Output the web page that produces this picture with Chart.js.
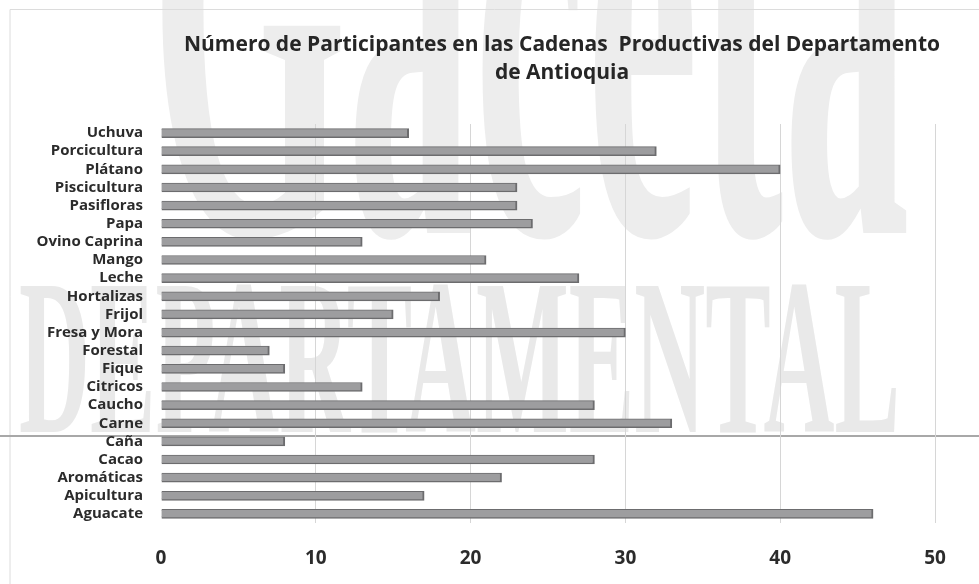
<!DOCTYPE html>
<html>
<head>
<meta charset="utf-8">
<script src="https://cdn.jsdelivr.net/npm/chart.js@4/dist/chart.umd.min.js"></script>
<style>
    html, body { margin: 0; padding: 0; background: #fff; }
    #wrap { width: 979px; height: 584px; }
</style>
</head>
<body>
<div id="wrap"><canvas id="cadenasChart"></canvas></div>
<script>
// cadenas productivas, de arriba hacia abajo
const cadenas = [
    'Uchuva', 'Porcicultura', 'Plátano', 'Piscicultura', 'Pasifloras', 'Papa',
    'Ovino Caprina', 'Mango', 'Leche', 'Hortalizas', 'Frijol', 'Fresa y Mora',
    'Forestal', 'Fique', 'Citricos', 'Caucho', 'Carne', 'Caña', 'Cacao',
    'Aromáticas', 'Apicultura', 'Aguacate'
];
const participantes = [
    16, 32, 40, 23, 23, 24,
    13, 21, 27, 18, 15, 30,
    7, 8, 13, 28, 33, 8, 28,
    22, 17, 46
];
const ejeMin = 0, ejeMax = 50, ejePaso = 10;
const titulo = [
    'Número de Participantes en las Cadenas  Productivas del Departamento',
    'de Antioquia'
];

// marca de agua de fondo (texto gris claro) y bordes de la página
const marcaAgua = {
    id: 'marcaAgua',
    beforeDraw: function (chart) {
        const ctx = chart.ctx;
        ctx.save();
        ctx.fillStyle = '#fff';
        ctx.fillRect(0, 0, chart.width, chart.height);

        const palabra = function (text, size, x, baseline, width, color) {
            ctx.font = 'bold ' + size + 'px "Liberation Serif"';
            const w = ctx.measureText(text).width;
            ctx.save();
            ctx.translate(x, baseline);
            ctx.scale(width / w, 1);
            ctx.fillStyle = color;
            ctx.textBaseline = 'alphabetic';
            ctx.fillText(text, 0, 0);
            ctx.restore();
        }
        palabra('Gaceta', 700, 150, 233, 760, '#ededed');
        palabra('DEPARTAMENTAL', 223, 19, 432, 881, '#e9e9e9');

        ctx.strokeStyle = '#dcdcdc';
        ctx.lineWidth = 1;
        ctx.beginPath();
        ctx.moveTo(10, 584);
        ctx.lineTo(10, 9.5);
        ctx.lineTo(979, 9.5);
        ctx.stroke();

        ctx.strokeStyle = '#a8a8a8';
        ctx.lineWidth = 2;
        ctx.beginPath();
        ctx.moveTo(0, 436);
        ctx.lineTo(979, 436);
        ctx.stroke();
        ctx.restore();
    },
    // título en dos líneas centrado sobre x = 562
    afterDraw: function (chart) {
        const ctx = chart.ctx;
        ctx.save();
        ctx.fillStyle = '#262626';
        ctx.font = 'bold 21px "Open Sans"';
        ctx.textAlign = 'center';
        ctx.textBaseline = 'middle';
        titulo.forEach(function (linea, i) {
            ctx.fillText(linea, 562, 45 + i * 28);
        });
        ctx.restore();
    }
};

const ctx = document.getElementById('cadenasChart').getContext('2d');
const config = {
    type: 'bar',
    data: {
        labels: cadenas,
        datasets: [{
            label: 'Participantes',
            data: participantes,
            backgroundColor: '#9d9d9f',
            borderColor: '#6c6c6e',
            borderWidth: { top: 1, right: 2, bottom: 1.5, left: 0 },
            borderSkipped: false,
            barThickness: 9,
        }],
    },
    options: {
        indexAxis: 'y',
        responsive: true,
        maintainAspectRatio: false,
        animation: false,
        layout: { padding: { left: 0, right: 44, top: 124, bottom: 0 } },
        plugins: {
            legend: { display: false },
            tooltip: { enabled: false },
            title: { display: false },
        },
        scales: {
            x: {
                min: ejeMin,
                max: ejeMax,
                ticks: {
                    stepSize: ejePaso,
                    color: '#2b2b2b',
                    padding: 24,
                    font: { family: '"Open Sans"', weight: 'bold', size: 19 },
                },
                grid: {
                    color: function (c) { return c.tick && c.tick.value === 0 ? 'rgba(0,0,0,0)' : '#d6d6d6'; },
                    drawTicks: false,
                },
                border: { display: false },
                afterFit: function (scale) { scale.height = 61; },
            },
            y: {
                ticks: {
                    color: '#2b2b2b',
                    padding: 10,
                    autoSkip: false,
                    font: { family: '"Open Sans"', weight: 'bold', size: 15 },
                },
                grid: { display: false },
                border: { display: false },
                afterFit: function (scale) { scale.width = 161; },
            },
        },
    },
    plugins: [marcaAgua],
};
const cadenasChart = new Chart(ctx, config);
</script>
</body>
</html>
